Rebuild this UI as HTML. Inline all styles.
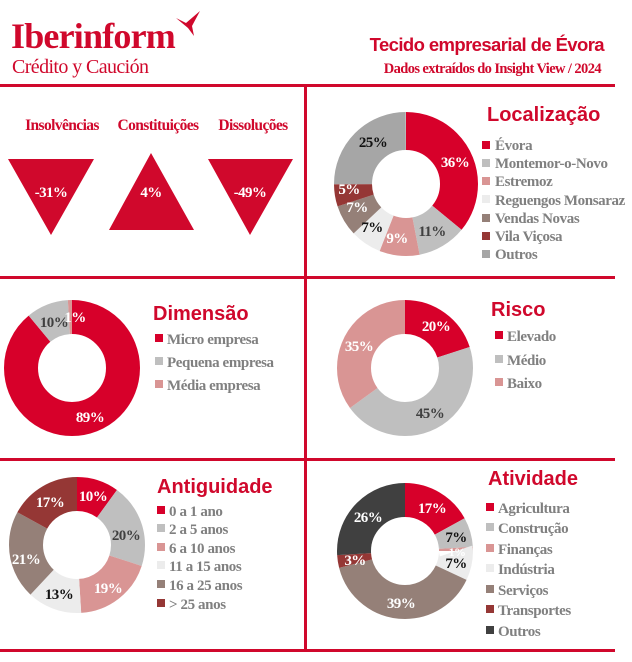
<!DOCTYPE html>
<html><head><meta charset="utf-8"><style>
html,body{margin:0;padding:0;background:#fff}
svg{display:block}
.s{font-family:"Liberation Serif",serif;font-weight:bold}
.t{font-family:"Liberation Sans",sans-serif;font-weight:bold;fill:#d0082c;font-size:20px}
.lg{font-family:"Liberation Serif",serif;font-weight:bold;fill:#808080;font-size:15px;letter-spacing:-0.4px}
.p{font-family:"Liberation Serif",serif;font-weight:bold;font-size:15px;letter-spacing:-0.6px;text-anchor:middle}
.w{fill:#fff}.d{fill:#404040}.b{fill:#111}
</style></head><body>
<svg width="632" height="662" viewBox="0 0 632 662" xmlns="http://www.w3.org/2000/svg">
<!-- header -->
<text x="11" y="48" class="s" font-size="36" fill="#d0082c" letter-spacing="-0.8">Iberinform</text>
<text x="12" y="73" font-family="Liberation Serif,serif" font-size="20" fill="#d0082c" letter-spacing="-0.6">Crédito y Caución</text>
<path d="M176 18 L186 23 L200 11 L192 26 L194 36 L188 28 Z" fill="#d0082c"/>
<text x="604" y="51" text-anchor="end" font-family="Liberation Sans,sans-serif" font-weight="bold" font-size="18.5" fill="#d0082c" letter-spacing="-0.6">Tecido empresarial de Évora</text>
<text x="601" y="73" text-anchor="end" class="s" font-size="14.5" fill="#d0082c" letter-spacing="-0.6">Dados extraídos do Insight View / 2024</text>
<!-- grid lines -->
<g fill="#d0082c">
<rect x="0" y="84" width="615" height="3"/>
<rect x="0" y="276" width="615" height="3"/>
<rect x="0" y="458" width="615" height="3"/>
<rect x="0" y="649" width="615" height="3"/>
<rect x="304" y="86" width="3" height="565"/>
</g>
<!-- top-left -->
<g class="s" font-size="15.5" fill="#d0082c" text-anchor="middle" letter-spacing="-0.6">
<text x="62" y="130">Insolvências</text>
<text x="158" y="130">Constituições</text>
<text x="253" y="130">Dissoluções</text>
</g>
<path d="M8 159 L94 159 L51 235Z M109 230 L194 230 L151 153Z M208 159 L293 159 L250 235Z" fill="#d0082c"/>
<g class="p w" font-size="16">
<text x="51" y="197">-31%</text><text x="151" y="197">4%</text><text x="250" y="197">-49%</text>
</g>
<!-- Localização donut -->
<g transform="translate(406,184) rotate(-90)" fill="none" stroke-width="38">
<circle r="53" pathLength="100" stroke="#d7002a" stroke-dasharray="36 100" stroke-dashoffset="0"/>
<circle r="53" pathLength="100" stroke="#bfbfbf" stroke-dasharray="11 100" stroke-dashoffset="-36"/>
<circle r="53" pathLength="100" stroke="#d99594" stroke-dasharray="9 100" stroke-dashoffset="-47"/>
<circle r="53" pathLength="100" stroke="#ececec" stroke-dasharray="7 100" stroke-dashoffset="-56"/>
<circle r="53" pathLength="100" stroke="#958078" stroke-dasharray="7 100" stroke-dashoffset="-63"/>
<circle r="53" pathLength="100" stroke="#953735" stroke-dasharray="5 100" stroke-dashoffset="-70"/>
<circle r="53" pathLength="100" stroke="#a6a6a6" stroke-dasharray="25 100" stroke-dashoffset="-75"/>
</g>
<g class="p">
<text x="455" y="167" class="w">36%</text><text x="432" y="236" class="d">11%</text>
<text x="397" y="243" class="w">9%</text><text x="372" y="232" class="b">7%</text>
<text x="357" y="212" class="w">7%</text><text x="349" y="194" class="w">5%</text>
<text x="373" y="147" class="b">25%</text>
</g>
<text x="487" y="121" class="t">Localização</text>
<g>
<rect x="482" y="141" width="8" height="8" fill="#d7002a"/><text x="495" y="150" class="lg">Évora</text>
<rect x="482" y="159" width="8" height="8" fill="#bfbfbf"/><text x="495" y="168" class="lg">Montemor-o-Novo</text>
<rect x="482" y="177" width="8" height="8" fill="#d99594"/><text x="495" y="186" class="lg">Estremoz</text>
<rect x="482" y="195" width="8" height="8" fill="#ececec"/><text x="495" y="205" class="lg">Reguengos Monsaraz</text>
<rect x="482" y="214" width="8" height="8" fill="#958078"/><text x="495" y="223" class="lg">Vendas Novas</text>
<rect x="482" y="232" width="8" height="8" fill="#953735"/><text x="495" y="241" class="lg">Vila Viçosa</text>
<rect x="482" y="250" width="8" height="8" fill="#a6a6a6"/><text x="495" y="259" class="lg">Outros</text>
</g>
<!-- Dimensão -->
<g transform="translate(72,368) rotate(-90)" fill="none" stroke-width="34">
<circle r="51" pathLength="100" stroke="#d7002a" stroke-dasharray="89 100"/>
<circle r="51" pathLength="100" stroke="#bfbfbf" stroke-dasharray="10 100" stroke-dashoffset="-89"/>
<circle r="51" pathLength="100" stroke="#d99594" stroke-dasharray="1 100" stroke-dashoffset="-99"/>
</g>
<g class="p"><text x="54" y="327" class="d">10%</text><text x="75" y="322" class="w">1%</text><text x="90" y="422" class="w">89%</text></g>
<text x="153" y="320" class="t">Dimensão</text>
<rect x="155" y="334" width="8" height="8" fill="#d7002a"/><text x="167" y="344" class="lg">Micro empresa</text>
<rect x="155" y="357" width="8" height="8" fill="#bfbfbf"/><text x="167" y="367" class="lg">Pequena empresa</text>
<rect x="155" y="380" width="8" height="8" fill="#d99594"/><text x="167" y="390" class="lg">Média empresa</text>
<!-- Risco -->
<g transform="translate(405,368) rotate(-90)" fill="none" stroke-width="34">
<circle r="51" pathLength="100" stroke="#d7002a" stroke-dasharray="20 100"/>
<circle r="51" pathLength="100" stroke="#bfbfbf" stroke-dasharray="45 100" stroke-dashoffset="-20"/>
<circle r="51" pathLength="100" stroke="#d99594" stroke-dasharray="35 100" stroke-dashoffset="-65"/>
</g>
<g class="p"><text x="436" y="331" class="w">20%</text><text x="430" y="418" class="d">45%</text><text x="359" y="351" class="w">35%</text></g>
<text x="491" y="316" class="t">Risco</text>
<rect x="495" y="331" width="8" height="8" fill="#d7002a"/><text x="507" y="341" class="lg">Elevado</text>
<rect x="495" y="355" width="8" height="8" fill="#bfbfbf"/><text x="507" y="365" class="lg">Médio</text>
<rect x="495" y="378" width="8" height="8" fill="#d99594"/><text x="507" y="388" class="lg">Baixo</text>
<!-- Antiguidade -->
<g transform="translate(77,545) rotate(-90)" fill="none" stroke-width="34">
<circle r="51" pathLength="100" stroke="#d7002a" stroke-dasharray="10 100"/>
<circle r="51" pathLength="100" stroke="#bfbfbf" stroke-dasharray="20 100" stroke-dashoffset="-10"/>
<circle r="51" pathLength="100" stroke="#d99594" stroke-dasharray="19 100" stroke-dashoffset="-30"/>
<circle r="51" pathLength="100" stroke="#ececec" stroke-dasharray="13 100" stroke-dashoffset="-49"/>
<circle r="51" pathLength="100" stroke="#958078" stroke-dasharray="21 100" stroke-dashoffset="-62"/>
<circle r="51" pathLength="100" stroke="#953735" stroke-dasharray="17 100" stroke-dashoffset="-83"/>
</g>
<g class="p"><text x="93" y="501" class="w">10%</text><text x="126" y="540" class="d">20%</text><text x="108" y="593" class="w">19%</text><text x="59" y="599" class="b">13%</text><text x="26" y="564" class="w">21%</text><text x="50" y="507" class="w">17%</text></g>
<text x="157" y="493" class="t">Antiguidade</text>
<rect x="157" y="506" width="8" height="8" fill="#d7002a"/><text x="169" y="516" class="lg">0 a 1 ano</text>
<rect x="157" y="524" width="8" height="8" fill="#bfbfbf"/><text x="169" y="534" class="lg">2 a 5 anos</text>
<rect x="157" y="543" width="8" height="8" fill="#d99594"/><text x="169" y="553" class="lg">6 a 10 anos</text>
<rect x="157" y="561" width="8" height="8" fill="#ececec"/><text x="169" y="571" class="lg">11 a 15 anos</text>
<rect x="157" y="580" width="8" height="8" fill="#958078"/><text x="169" y="590" class="lg">16 a 25 anos</text>
<rect x="157" y="599" width="8" height="8" fill="#953735"/><text x="169" y="609" class="lg">&gt; 25 anos</text>
<!-- Atividade -->
<g transform="translate(405,551) rotate(-90)" fill="none" stroke-width="34">
<circle r="51" pathLength="100" stroke="#d7002a" stroke-dasharray="17 100"/>
<circle r="51" pathLength="100" stroke="#bfbfbf" stroke-dasharray="7 100" stroke-dashoffset="-17"/>
<circle r="51" pathLength="100" stroke="#d99594" stroke-dasharray="1 100" stroke-dashoffset="-24"/>
<circle r="51" pathLength="100" stroke="#ececec" stroke-dasharray="7 100" stroke-dashoffset="-25"/>
<circle r="51" pathLength="100" stroke="#958078" stroke-dasharray="39 100" stroke-dashoffset="-32"/>
<circle r="51" pathLength="100" stroke="#953735" stroke-dasharray="3 100" stroke-dashoffset="-71"/>
<circle r="51" pathLength="100" stroke="#404040" stroke-dasharray="26 100" stroke-dashoffset="-74"/>
</g>
<g class="p"><text x="432" y="513" class="w">17%</text><text x="456" y="542" class="b">7%</text><text x="457" y="556" class="w" font-size="12">1%</text><text x="456" y="568" class="b">7%</text><text x="401" y="608" class="w">39%</text><text x="355" y="565" class="w">3%</text><text x="368" y="522" class="w">26%</text></g>
<text x="488" y="485" class="t">Atividade</text>
<rect x="486" y="503" width="8" height="8" fill="#d7002a"/><text x="498" y="513" class="lg">Agricultura</text>
<rect x="486" y="523" width="8" height="8" fill="#bfbfbf"/><text x="498" y="533" class="lg">Construção</text>
<rect x="486" y="544" width="8" height="8" fill="#d99594"/><text x="498" y="554" class="lg">Finanças</text>
<rect x="486" y="564" width="8" height="8" fill="#ececec"/><text x="498" y="574" class="lg">Indústria</text>
<rect x="486" y="585" width="8" height="8" fill="#958078"/><text x="498" y="595" class="lg">Serviços</text>
<rect x="486" y="605" width="8" height="8" fill="#953735"/><text x="498" y="615" class="lg">Transportes</text>
<rect x="486" y="626" width="8" height="8" fill="#404040"/><text x="498" y="636" class="lg">Outros</text>
</svg>
</body></html>
